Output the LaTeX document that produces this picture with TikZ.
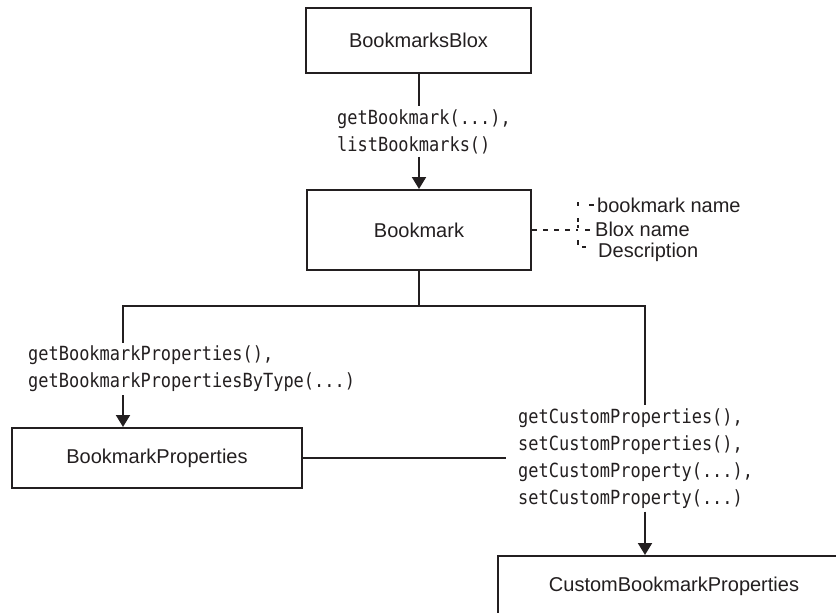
\documentclass[tikz,border=0pt]{standalone}
\usepackage{fontspec}
\setmainfont{Liberation Sans}
\newfontfamily\codefont[FakeStretch=0.87]{DejaVu Sans Mono}
\usetikzlibrary{arrows.meta}
\definecolor{ink}{HTML}{231F20}
\begin{document}
\begin{tikzpicture}[x=1pt,y=-1pt,
  box/.style={draw=ink, line width=2pt, rectangle, inner sep=0pt, font=\fontsize{20}{24}\selectfont, text=ink},
  conn/.style={draw=ink, line width=2pt},
  arr/.style={conn, -{Triangle[width=14pt,length=12pt]}},
  code/.style={font=\codefont\fontsize{19.5}{27}\selectfont, align=left, inner xsep=12pt, inner ysep=3pt, anchor=west, text=ink},
  side/.style={font=\fontsize{20}{23.5}\selectfont, anchor=west, inner sep=0pt, text=ink},
  dots/.style={draw=ink, line width=1.4pt}]
\useasboundingbox (0,0) rectangle (836,613);
\clip (0,0) rectangle (836,613);

% boxes
\node[box, minimum width=225pt, minimum height=65pt] (blox) at (418.5,40.5) {BookmarksBlox};
\node[box, minimum width=224pt, minimum height=80pt] (bm) at (419,230) {Bookmark};
\node[box, minimum width=290pt, minimum height=60pt] (bp) at (157,458) {BookmarkProperties};
\node[box, minimum width=352pt, minimum height=80pt, anchor=north west] (cbp) at (497,555) {\raisebox{24pt}{CustomBookmarkProperties}};

% method labels
\node[code] (l1) at (325,131.5) {getBookmark(...),\\listBookmarks()};
\node[code] (l2) at (16,369) {getBookmarkProperties(),\\getBookmarkPropertiesByType(...)};
\node[code] (l3) at (506,458.5) {getCustomProperties(),\\setCustomProperties(),\\getCustomProperty(...),\\setCustomProperty(...)};

% side labels
\node[side] (s1) at (597,205) {bookmark name};
\node[side] (s2) at (595,229) {Blox name};
\node[side] (s3) at (598,252) {Description};

% hub coordinates
\coordinate (hubL) at (123,306);
\coordinate (hubR) at (645,306);
\coordinate (brk) at (578,230);

% connectors
\draw[conn] (blox.south) -- (blox.south |- l1.north);
\draw[arr] (bm.north |- l1.south) -- (bm.north);
\draw[conn] (bm.south) -- (bm.south |- hubL);
\draw[conn] (hubL |- l2.north) -- (hubL) -- (hubR) -- (hubR |- l3.north);
\draw[arr] (hubL |- l2.south) -- (hubL |- bp.north);
\draw[arr] (hubR |- l3.south) -- (hubR |- cbp.north);
\draw[conn] (bp.east) -- (bp.east -| l3.west);

% dashed attribute bracket
\draw[dots, dash pattern=on 5pt off 6pt] (bm.east) -- (brk);
\draw[dots] (578,202) -- (578,206);
\draw[dots] (589,205) -- (594,205);
\draw[dots] (578,218) -- (578,222);
\draw[dots] (578,225) -- (578,228);
\draw[dots] (585,230) -- (590,230);
\draw[dots] (578,240) -- (578,245);
\draw[dots] (582,247) -- (586,247);
\end{tikzpicture}
\end{document}
